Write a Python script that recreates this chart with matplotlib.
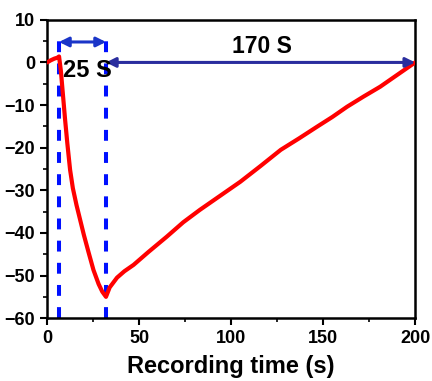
import matplotlib.pyplot as plt
from matplotlib.ticker import MultipleLocator

plt.rcParams['font.family'] = ['Liberation Sans', 'DejaVu Sans']
plt.rcParams['font.weight'] = 'bold'

# trace
time_s = [0, 2, 4, 5.5, 6.5, 7.5, 8.5, 9.8, 11, 12.5, 14, 16, 18, 20, 22.5, 25.2,
          28, 30, 32, 34, 38, 42, 47, 55, 65, 74, 83, 94, 105, 116, 127, 137,
          147, 155, 163, 172, 181, 190, 200]
signal = [0, 0.5, 0.9, 1.1, 1.4, -2, -7, -13.5, -19, -25.2, -29.5, -33.5, -37, -40.5,
          -44.5, -48.7, -52, -53.8, -55, -52.8, -50.5, -49, -47.5, -44.5, -40.9, -37.5,
          -34.6, -31.3, -28, -24.3, -20.5, -17.8, -15, -12.8, -10.4, -8, -5.7, -3, 0]

t_start, t_peak, t_end = 6.5, 32, 200
short_label = "25 S"
long_label = "170 S"

fig = plt.figure(figsize=(4.32, 3.81), dpi=100)
ax = fig.add_axes([0.109, 0.165, 0.852, 0.783])

ax.plot(time_s, signal, color='#ff0000', lw=3, solid_capstyle='round',
        solid_joinstyle='round', zorder=3)

for xv in (t_start, t_peak):
    ax.plot([xv, xv], [-60, 7.3], color='#0010ff', lw=2.9, ls=(0, (2.7, 2.8)), zorder=2)

ax.annotate('', xy=(t_start, 4.8), xytext=(t_peak, 4.8),
            arrowprops=dict(arrowstyle='<|-|>', color='#1a35c8', lw=2.2,
                            mutation_scale=14, shrinkA=0, shrinkB=0))
ax.annotate('', xy=(t_peak, 0), xytext=(t_end, 0),
            arrowprops=dict(arrowstyle='<|-|>', color='#2a2d9e', lw=2.2,
                            mutation_scale=14, shrinkA=0, shrinkB=0))

ax.text(22, -1.8, short_label, fontsize=17, fontweight='bold', ha='center', va='center')
ax.text(117, 3.8, long_label, fontsize=16.5, fontweight='bold', ha='center', va='center')

ax.set_xlim(0, 200)
ax.set_ylim(-60, 10)
ax.xaxis.set_major_locator(MultipleLocator(50))
ax.xaxis.set_minor_locator(MultipleLocator(25))
ax.yaxis.set_major_locator(MultipleLocator(10))
ax.yaxis.set_minor_locator(MultipleLocator(5))
ax.tick_params(which='major', direction='out', length=5, width=1.5, labelsize=13)
ax.tick_params(which='minor', direction='out', length=3, width=1.2)
for lab in ax.get_xticklabels() + ax.get_yticklabels():
    lab.set_fontweight('bold')
for s in ax.spines.values():
    s.set_linewidth(1.8)

ax.set_xlabel('Recording time (s)', fontsize=17, fontweight='bold', labelpad=6)

fig.savefig('out.png', dpi=100)
